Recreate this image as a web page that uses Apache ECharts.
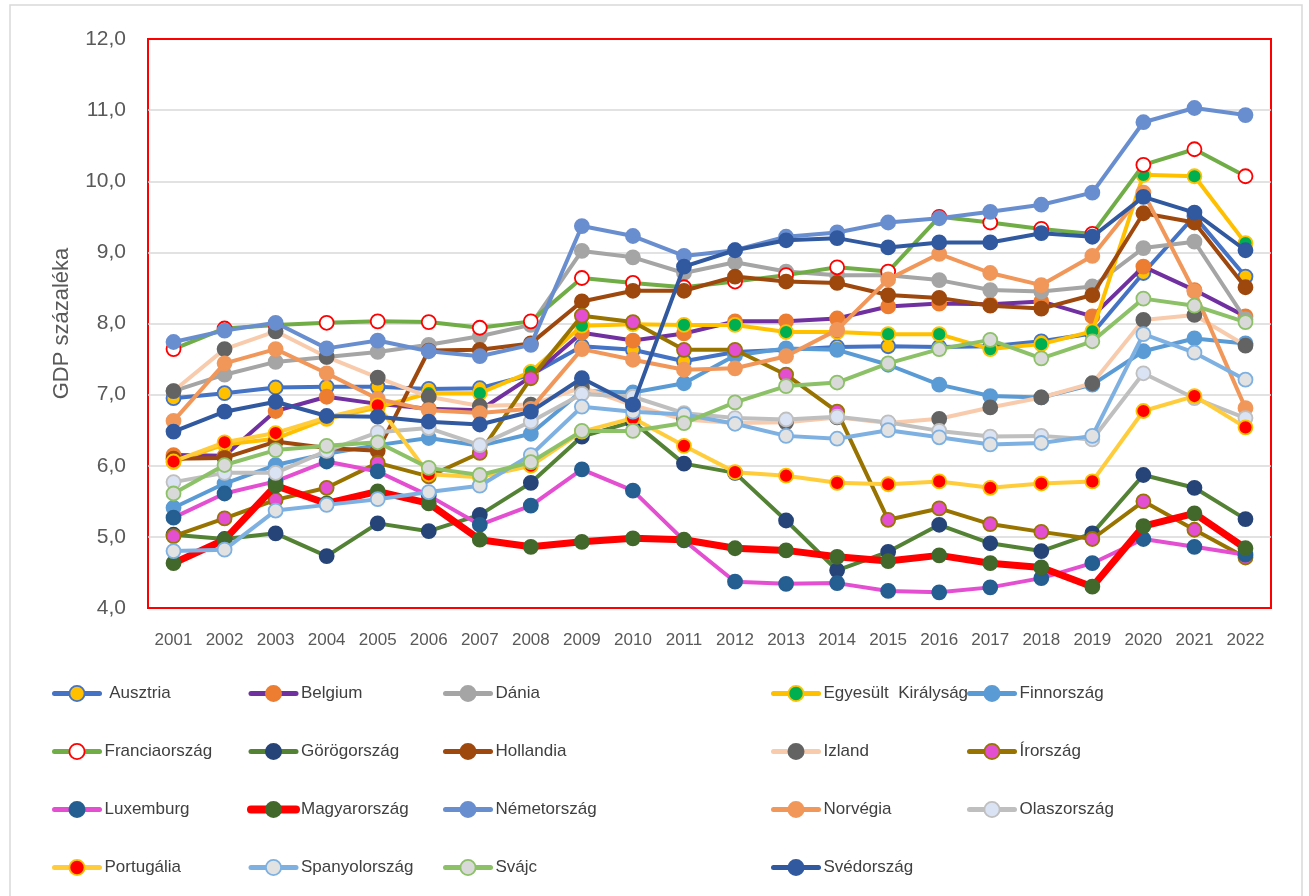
<!DOCTYPE html>
<html>
<head>
<meta charset="utf-8">
<script src="https://cdn.jsdelivr.net/npm/echarts@6/dist/echarts.min.js"></script>
<style>
html,body{margin:0;padding:0;background:#fff;}
#chart{width:1309px;height:896px;}
</style>
</head>
<body>
<div id="chart"></div>
<script>
const years = ['2001','2002','2003','2004','2005','2006','2007','2008','2009','2010','2011','2012','2013','2014','2015','2016','2017','2018','2019','2020','2021','2022'];

const ausztria        = [6.95,7.02,7.10,7.11,7.11,7.08,7.09,7.28,7.68,7.63,7.47,7.60,7.63,7.67,7.68,7.67,7.68,7.75,7.86,8.71,9.51,8.66];
const belgium         = [6.15,6.14,6.77,6.97,6.87,6.80,6.78,7.25,7.87,7.76,7.86,8.03,8.03,8.07,8.24,8.28,8.27,8.31,8.10,8.80,8.47,8.10];
const dania           = [7.05,7.28,7.46,7.53,7.60,7.70,7.82,7.98,9.02,8.93,8.71,8.86,8.73,8.68,8.68,8.61,8.47,8.45,8.52,9.06,9.15,8.06];
const egyesultKiraly  = [6.05,6.30,6.38,6.66,6.82,7.02,7.02,7.32,7.97,7.99,7.98,7.98,7.88,7.88,7.85,7.85,7.64,7.71,7.89,10.09,10.07,9.13];
const finnorszag      = [5.41,5.75,6.01,6.17,6.29,6.39,6.28,6.45,7.05,7.03,7.16,7.55,7.65,7.63,7.42,7.14,6.98,6.96,7.14,7.61,7.79,7.72];
const franciaorszag   = [7.64,7.93,7.98,8.01,8.03,8.02,7.94,8.03,8.64,8.57,8.51,8.59,8.68,8.79,8.73,9.50,9.42,9.33,9.26,10.23,10.45,10.07];
const gorogorszag     = [5.03,4.97,5.05,4.73,5.19,5.08,5.31,5.76,6.41,6.62,6.03,5.90,5.23,4.53,4.79,5.17,4.91,4.80,5.05,5.87,5.69,5.25];
const hollandia       = [6.10,6.11,6.34,6.25,6.21,7.62,7.63,7.72,8.31,8.46,8.46,8.66,8.59,8.57,8.40,8.36,8.25,8.21,8.40,9.55,9.42,8.51];
const izland          = [7.05,7.64,7.89,7.53,7.24,6.97,6.84,6.86,7.10,6.85,6.65,6.60,6.61,6.68,6.60,6.66,6.82,6.96,7.16,8.05,8.12,7.69];
const irorszag        = [5.01,5.26,5.52,5.69,6.04,5.85,6.18,7.23,8.11,8.02,7.63,7.63,7.28,6.76,5.24,5.40,5.18,5.07,4.97,5.50,5.10,4.71];
const luxemburg       = [5.27,5.61,5.78,6.06,5.92,5.58,5.17,5.44,5.95,5.65,4.95,4.37,4.34,4.35,4.24,4.22,4.29,4.42,4.63,4.97,4.86,4.75];
const magyarorszag    = [4.63,4.96,5.72,5.47,5.64,5.47,4.96,4.86,4.93,4.98,4.96,4.84,4.81,4.72,4.66,4.74,4.63,4.57,4.30,5.15,5.33,4.84];
const nemetorszag     = [7.74,7.90,8.01,7.65,7.76,7.61,7.54,7.70,9.37,9.23,8.95,9.03,9.22,9.28,9.42,9.48,9.57,9.67,9.84,10.83,11.03,10.93];
const norvegia        = [6.63,7.44,7.64,7.30,6.94,6.78,6.74,6.80,7.64,7.49,7.35,7.37,7.54,7.91,8.62,8.98,8.71,8.54,8.95,9.84,8.45,6.81];
const olaszorszag     = [5.77,5.90,5.90,6.21,6.47,6.53,6.29,6.62,7.01,6.97,6.74,6.67,6.65,6.69,6.61,6.49,6.41,6.42,6.37,7.30,6.95,6.67];
const portugalia      = [6.06,6.33,6.46,6.68,6.85,5.88,5.84,6.00,6.48,6.67,6.28,5.91,5.86,5.76,5.74,5.78,5.69,5.75,5.78,6.77,6.98,6.54];
const spanyolorszag   = [4.80,4.82,5.37,5.45,5.53,5.63,5.72,6.15,6.83,6.76,6.72,6.59,6.42,6.38,6.50,6.40,6.30,6.32,6.42,7.85,7.59,7.21];
const svajc           = [5.61,6.01,6.22,6.28,6.33,5.97,5.87,6.05,6.49,6.49,6.60,6.89,7.12,7.17,7.44,7.64,7.77,7.51,7.75,8.35,8.25,8.02];
const svedorszag      = [6.48,6.76,6.90,6.70,6.69,6.62,6.58,6.76,7.23,6.86,8.80,9.03,9.17,9.20,9.07,9.14,9.14,9.27,9.22,9.78,9.56,9.03];

const yTicks = [4,5,6,7,8,9,10,11,12];

// name, data, line colour, marker fill, marker border, line width
const seriesDefs = [
  ['Ausztria', ausztria, '#4472C4', '#FFC000', '#4472C4', 4],
  ['Belgium', belgium, '#7030A0', '#ED7D31', '#ED7D31', 4],
  ['Dánia', dania, '#A5A5A5', '#A5A5A5', '#A5A5A5', 4],
  ['Egyesült  Királyság', egyesultKiraly, '#FFC000', '#00B050', '#FFC000', 4],
  ['Finnország', finnorszag, '#5B9BD5', '#5B9BD5', '#5B9BD5', 4],
  ['Franciaország', franciaorszag, '#70AD47', '#FFFFFF', '#FF0000', 4],
  ['Görögország', gorogorszag, '#548235', '#264478', '#264478', 4],
  ['Hollandia', hollandia, '#9E480E', '#9E480E', '#9E480E', 4],
  ['Izland', izland, '#F8CBAD', '#636363', '#636363', 4],
  ['Írország', irorszag, '#997300', '#E44FD2', '#997300', 4],
  ['Luxemburg', luxemburg, '#E44FD2', '#255E91', '#255E91', 4],
  ['Magyarország', magyarorszag, '#FF0000', '#43682B', '#43682B', 7],
  ['Németország', nemetorszag, '#698ED0', '#698ED0', '#698ED0', 4],
  ['Norvégia', norvegia, '#F1975A', '#F1975A', '#F1975A', 4],
  ['Olaszország', olaszorszag, '#BFBFBF', '#DAE3F3', '#BFBFBF', 4],
  ['Portugália', portugalia, '#FFCD3C', '#FF0000', '#FFC000', 4],
  ['Spanyolország', spanyolorszag, '#7EB1E1', '#E2E2E2', '#7EB1E1', 4],
  ['Svájc', svajc, '#8CC168', '#D9D9D9', '#8CC168', 4],
  ['Svédország', svedorszag, '#3159A0', '#3159A0', '#3159A0', 4]
];

const series = seriesDefs.map((d, i) => ({
  name: d[0],
  type: 'line',
  data: d[1],
  z: 2 + i,
  symbol: 'circle',
  symbolSize: 14,
  showAllSymbol: true,
  lineStyle: { color: d[2], width: d[5], cap: 'round', join: 'round' },
  itemStyle: { color: d[3], borderColor: d[4], borderWidth: 1.8 },
  emphasis: { disabled: true },
  animation: false
}));

const legendCols = [
  { left: 52,  names: ['Ausztria', 'Franciaország', 'Luxemburg', 'Portugália'] },
  { left: 247, names: ['Belgium', 'Görögország', 'Magyarország', 'Spanyolország'] },
  { left: 443, names: ['Dánia', 'Hollandia', 'Németország', 'Svájc'] },
  { left: 771, names: ['Egyesült  Királyság', 'Izland', 'Norvégia', 'Svédország'] },
  { left: 967, names: ['Finnország', 'Írország', 'Olaszország'] }
];

const legends = legendCols.map(c => ({
  orient: 'vertical',
  left: c.left,
  top: 684,
  itemWidth: 45,
  itemHeight: 19,
  itemGap: 39,
  selectedMode: false,
  padding: 0,
  lineStyle: { width: 5 },
  itemStyle: { borderWidth: 1.8 },
  textStyle: { fontSize: 17, color: '#404040', lineHeight: 19, fontFamily: 'Liberation Sans' },
  formatter: n => (n === 'Ausztria' ? ' ' + n : n),
  data: c.names.map(n => n === 'Magyarország' ? { name: n, lineStyle: { width: 8 } } : { name: n })
}));

const chart = echarts.init(document.getElementById('chart'), null, { renderer: 'canvas' });
chart.setOption({
  animation: false,
  backgroundColor: '#ffffff',
  textStyle: { fontFamily: 'Liberation Sans' },
  graphic: [{
    type: 'rect',
    shape: { x: 10, y: 5, width: 1292, height: 900 },
    style: { fill: 'none', stroke: '#D9D9D9', lineWidth: 1.5 },
    silent: true,
    z: -10
  }],
  grid: {
    left: 148, top: 39, width: 1123, height: 569,
    show: true, borderColor: '#FF0000', borderWidth: 2, backgroundColor: 'transparent'
  },
  legend: legends,
  xAxis: {
    type: 'category',
    data: years,
    boundaryGap: true,
    axisLine: { show: false },
    axisTick: { show: false },
    axisLabel: { fontSize: 17, color: '#595959', margin: 24, interval: 0 }
  },
  yAxis: {
    type: 'value',
    min: yTicks[0],
    max: yTicks[yTicks.length - 1],
    interval: 1,
    name: 'GDP százaléka',
    nameLocation: 'middle',
    nameRotate: 90,
    nameGap: 75,
    nameTextStyle: { fontSize: 22, color: '#595959' },
    axisLine: { show: false },
    axisTick: { show: false },
    splitLine: { showMinLine: false, showMaxLine: false, lineStyle: { color: '#D9D9D9', width: 1.5 } },
    axisLabel: {
      fontSize: 21, color: '#595959', margin: 22,
      formatter: v => v.toFixed(1).replace('.', ',')
    }
  },
  series: series
});
</script>
</body>
</html>
